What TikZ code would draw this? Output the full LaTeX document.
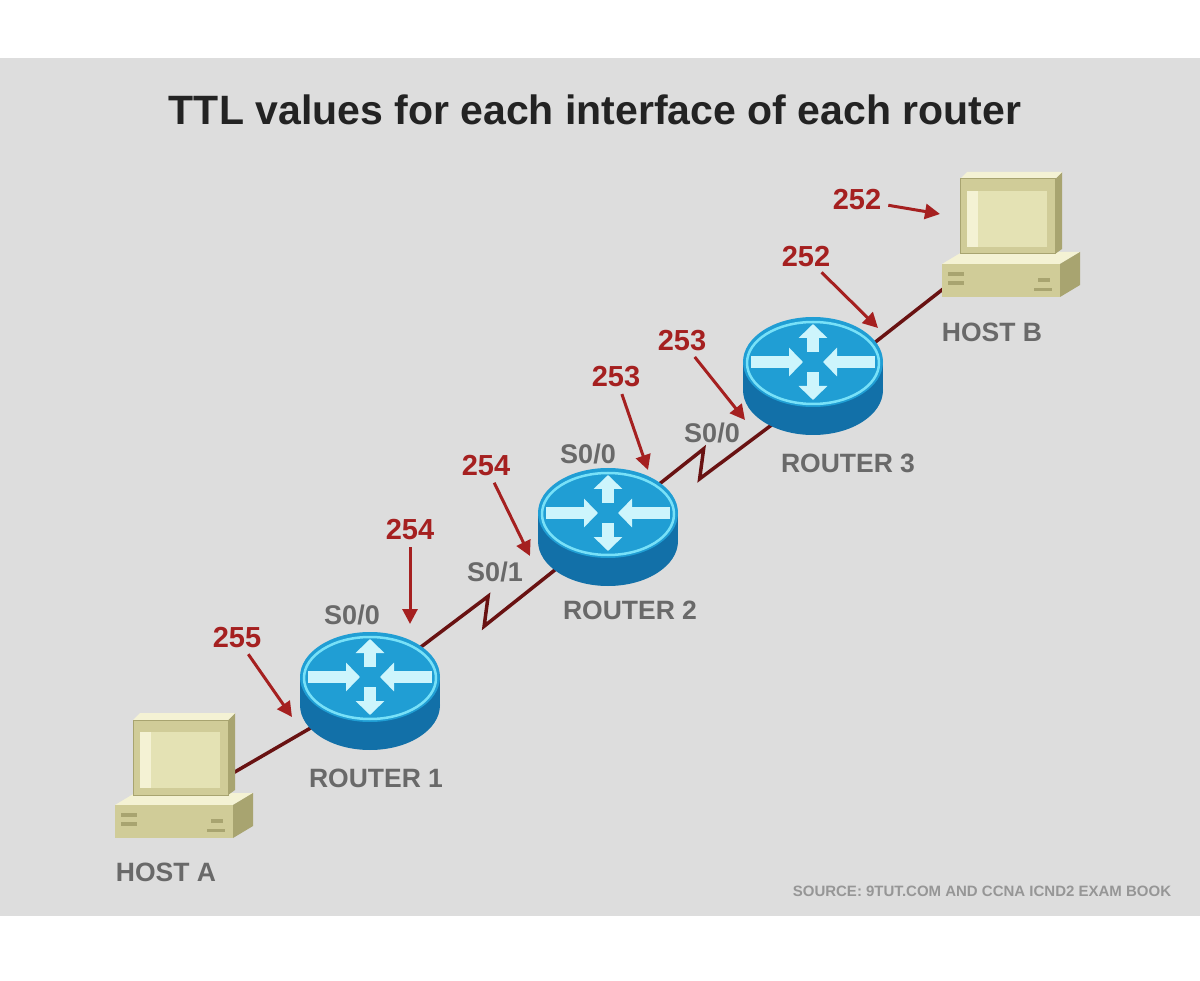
\documentclass[tikz,border=0pt]{standalone}
\usepackage{fontspec}
\setmainfont{Liberation Sans}
\usetikzlibrary{arrows.meta,shapes.geometric,calc}

\definecolor{bggray}{RGB}{221,221,221}
\definecolor{titleblack}{RGB}{35,35,35}
\definecolor{linkred}{RGB}{105,18,18}
\definecolor{ttlred}{RGB}{165,32,32}
\definecolor{lblgray}{RGB}{105,105,105}
\definecolor{srcgray}{RGB}{150,150,150}
\definecolor{routertop}{RGB}{32,158,212}
\definecolor{routerside}{RGB}{18,112,168}
\definecolor{routerring}{RGB}{120,225,248}
\definecolor{routerarrow}{RGB}{205,245,252}
\definecolor{pcbody}{RGB}{208,204,152}
\definecolor{pcdark}{RGB}{168,164,112}
\definecolor{pcscreen}{RGB}{228,226,180}
\definecolor{pclight}{RGB}{244,242,212}

\tikzset{
  link/.style={linkred, line width=3.5pt},
  serial/.style={to path={-- ($(\tikztostart)!#1!(\tikztotarget)+(0,-12)$) -- ($(\tikztostart)!#1!(\tikztotarget)+(-4,18)$) -- (\tikztotarget)}},
  serial/.default=0.5,
  ttl/.style={ttlred, line width=3pt, shorten <=7pt, -{Triangle[length=15pt,width=15pt]}},
  ttlnum/.style={text=ttlred, font=\fontsize{29}{30}\selectfont\bfseries},
  iface/.style={text=lblgray, font=\fontsize{27}{28}\selectfont\bfseries},
  devlabel/.style={text=lblgray, font=\fontsize{26.5}{28}\selectfont\bfseries},
  routerbox/.style={ellipse, minimum width=140pt, minimum height=118pt},
  hostbox/.style={rectangle, minimum width=95pt, minimum height=75pt},
  rarrow/.style={routerarrow, line width=12pt, -{Triangle[length=14pt,width=28pt]}},
}

% router icon round the centre of a routerbox node
\newcommand\drawrouter[1]{%
  \begin{scope}[shift={(#1.center)}]
    \fill[routerside] (-70,-14) rectangle (70,14);
    \fill[routerside] (0,14) ellipse [x radius=70, y radius=45];
    \fill[routertop] (0,-14) ellipse [x radius=70, y radius=45];
    \draw[routerring, line width=2.5pt] (0,-13) ellipse [x radius=66, y radius=41];
    \draw[rarrow] (-62,-14) -- (-10,-14);
    \draw[rarrow] (62,-14) -- (10,-14);
    \draw[rarrow] (0,-24) -- (0,-52);
    \draw[rarrow] (0,-4) -- (0,24);
  \end{scope}}

% host icon, the hostbox node is the monitor
\newcommand\drawhost[1]{%
  \begin{scope}[shift={(#1.center)}, shift={(-67.5,-44.5)}]
    \fill[pclight] (2,92) -- (22,80) -- (140,80) -- (120,92) -- cycle;
    \fill[pcbody] (2,92) rectangle (120,125);
    \fill[pcdark] (120,92) -- (140,80) -- (140,113) -- (120,125) -- cycle;
    \fill[pcdark] (8,100) rectangle (24,104);
    \fill[pcdark] (8,109) rectangle (24,113);
    \fill[pcdark] (98,106) rectangle (110,110);
    \fill[pcdark] (94,116) rectangle (112,119);
    \fill[pcdark] (115,7) -- (122,0) -- (122,77) -- (115,82) -- cycle;
    \fill[pclight] (20,7) -- (27,0) -- (122,0) -- (115,7) -- cycle;
    \filldraw[fill=pcbody, draw=pcdark, line width=1pt] (20,7) rectangle (115,82);
    \fill[pcscreen] (27,19) rectangle (107,75);
    \fill[pclight] (27,19) rectangle (38,75);
  \end{scope}}

\begin{document}
\begin{tikzpicture}[x=1pt, y=-1pt]
\tikzstyle{every node}+=[inner sep=0pt]
\useasboundingbox (0,0) rectangle (1200,981);
\fill[white] (0,0) rectangle (1200,981);
\fill[bggray] (0,58) rectangle (1200,916);

\node[text=titleblack, font=\fontsize{41}{46}\selectfont\bfseries] (title) at (595,110) {TTL values for each interface of each router};

% devices
\node[hostbox] (A) at (180.5,757.5) {};
\node[routerbox] (R1) at (370,691) {};
\node[routerbox] (R2) at (608,527) {};
\node[routerbox] (R3) at (813,376) {};
\node[hostbox] (B) at (1007.5,216.5) {};

% links
\draw[link] (A.-21) -- (R1.212);
\draw[link] (R1.41) to[serial=0.5] (R2.219);
\draw[link] (R2.40) to[serial=0.4] (R3.230);
\draw[link] (R3.28) -- (B.242);

\foreach \r in {R1,R2,R3} \drawrouter{\r};
\drawhost{A}
\drawhost{B}

\node[devlabel] (lA) at (166,872) {HOST A};
\node[devlabel] (lB) at (992,332) {HOST B};
\node[devlabel] (l1) at (376,778) {ROUTER 1};
\node[devlabel] (l2) at (630,610) {ROUTER 2};
\node[devlabel] (l3) at (848,463) {ROUTER 3};

\node[iface] (s1) at (352,615) {S0/0};
\node[iface] (s2) at (495,572) {S0/1};
\node[iface] (s3) at (588,454) {S0/0};
\node[iface] (s4) at (712,433) {S0/0};

% TTL values
\node[ttlnum] (n1) at (237,638) {255};
\node[ttlnum] (n2) at (410,530) {254};
\node[ttlnum] (n3) at (486,466) {254};
\node[ttlnum] (n4) at (616,377) {253};
\node[ttlnum] (n5) at (682,341) {253};
\node[ttlnum] (n6) at (806,257) {252};
\node[ttlnum] (n7) at (857,200) {252};
\coordinate (p1) at (292,717);
\coordinate (p2) at (410,624);
\coordinate (p3) at (530,556);
\coordinate (p4) at (648,470);
\coordinate (p5) at (745,420);
\coordinate (p6) at (878,328);
\coordinate (p7) at (940,214);
\foreach \i in {1,...,7} \draw[ttl] (n\i) -- (p\i);

\node[text=srcgray, font=\fontsize{15}{17}\selectfont\bfseries] (src) at (982,891) {SOURCE: 9TUT.COM AND CCNA ICND2 EXAM BOOK};
\end{tikzpicture}
\end{document}
